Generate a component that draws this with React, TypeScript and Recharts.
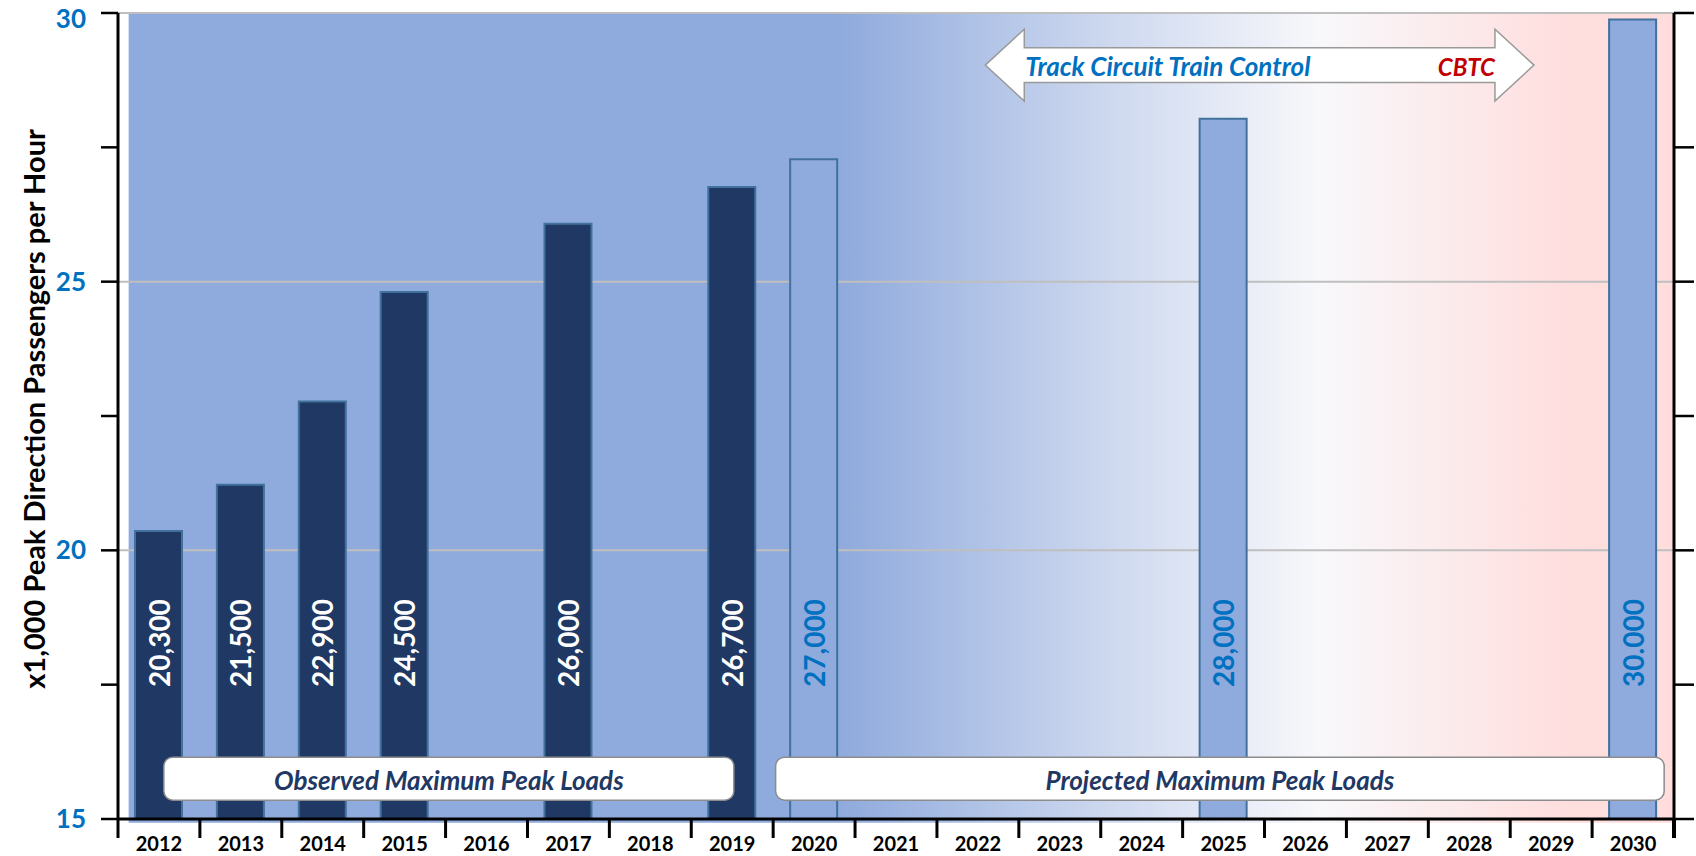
import {
  BarChart,
  Bar,
  Cell,
  XAxis,
  YAxis,
  ReferenceArea,
  ReferenceLine,
  LabelList,
} from "recharts";

const years = [
  "2012", "2013", "2014", "2015", "2016", "2017", "2018", "2019", "2020", "2021",
  "2022", "2023", "2024", "2025", "2026", "2027", "2028", "2029", "2030",
];

// heights, x1,000 passengers
const observedLoads = [20.36, 21.22, 22.77, 24.81, null, 26.08, null, 26.76, null, null, null, null, null, null, null, null, null, null, null];
const projectedLoads = [null, null, null, null, null, null, null, null, 27.28, null, null, null, null, 28.03, null, null, null, null, 29.88];
const loadLabels = ["20,300", "21,500", "22,900", "24,500", "", "26,000", "", "26,700", "27,000", "", "", "", "", "28,000", "", "", "", "", "30.000"];

const yTicks = [15, 17.5, 20, 22.5, 25, 27.5, 30];
const gridValues = [20, 25, 30];

const W = 1696;
const H = 856;
const LEFT = 118;
const RIGHT = 22;
const TOP = 13;
const BOTTOM = 37;
const BAND = (W - LEFT - RIGHT) / years.length;
// horizontal position in "category widths" from the left axis
const bandX = (f: number) => LEFT + f * BAND;

const FONT = "Lato, 'Open Sans', sans-serif";
const DARK = "#1F3864";
const LIGHT = "#8FAADC";
const EDGE = "#41719C";
const BLUE_TEXT = "#0070C0";

const data = years.map((year, i) => ({
  year,
  load: observedLoads[i] ?? projectedLoads[i],
  observed: observedLoads[i] != null,
  label: loadLabels[i],
}));

function YearTick({ x, y, payload, index }: any) {
  return (
    <g>
      <line x1={x - BAND / 2} x2={x - BAND / 2} y1={y} y2={y + 19} stroke="#000" strokeWidth={3} />
      {index === years.length - 1 && (
        <line x1={x + BAND / 2} x2={x + BAND / 2} y1={y} y2={y + 19} stroke="#000" strokeWidth={4} />
      )}
      <text x={x} y={y + 32} textAnchor="middle" fontFamily={FONT} fontWeight={700} fontSize={20} fill="#000">
        {payload.value}
      </text>
    </g>
  );
}

// left labels; also draws the matching tick on the right-hand axis
function ValueTick({ x, y, payload }: any) {
  const rx = W - RIGHT;
  // the top label sits a little lower so it isn't clipped
  const dy = y < TOP + 5 ? 15 : 9;
  return (
    <g>
      <line x1={rx} x2={rx + 20} y1={y} y2={y} stroke="#000" strokeWidth={2.5} />
      {payload.value % 5 === 0 && (
        <text x={x} y={y} dy={dy} textAnchor="end" fontFamily={FONT} fontWeight={700} fontSize={26} fill={BLUE_TEXT}>
          {payload.value}
        </text>
      )}
    </g>
  );
}

function BarLabel({ x, y, width, height, value }: any) {
  if (!value) return null;
  const row = data.find((d) => d.label === value);
  const cx = x + width / 2;
  const cy = y + height - 176;
  return (
    <text
      x={cx}
      y={cy}
      transform={`rotate(-90, ${cx}, ${cy})`}
      textAnchor="middle"
      dominantBaseline="central"
      fontFamily={FONT}
      fontWeight={700}
      fontSize={28}
      fill={row && row.observed ? "#FFFFFF" : BLUE_TEXT}
    >
      {value}
    </text>
  );
}

function Background({ y, height }: any) {
  const x0 = bandX(0.13);
  return <rect x={x0} y={y} width={bandX(years.length) + 1 - x0} height={height} fill="url(#bgGradient)" />;
}

function LoadBox(text: string, from: number, to: number) {
  return ({ y, height }: any) => {
    const x = bandX(from);
    const width = bandX(to) - x;
    return (
      <g>
        <rect x={x} y={y} width={width} height={height} rx={9} fill="#FFFFFF" stroke="#8C8C8C" strokeWidth={1.5} />
        <text
          x={x + width / 2}
          y={y + height / 2 + 1}
          dominantBaseline="central"
          textAnchor="middle"
          fontFamily={FONT}
          fontStyle="italic"
          fontWeight={700}
          fontSize={26}
          fill={DARK}
        >
          {text}
        </text>
      </g>
    );
  };
}

function ControlArrow({ y, height }: any) {
  const x = bandX(10.59);
  const width = bandX(17.29) - x;
  const head = 39;
  const inset = height * 0.26;
  const cy = y + height / 2;
  const pts = [
    [x, cy],
    [x + head, y],
    [x + head, y + inset],
    [x + width - head, y + inset],
    [x + width - head, y],
    [x + width, cy],
    [x + width - head, y + height],
    [x + width - head, y + height - inset],
    [x + head, y + height - inset],
    [x + head, y + height],
  ]
    .map((p) => p.join(","))
    .join(" ");
  return (
    <g>
      <polygon points={pts} fill="#FFFFFF" stroke="#9A9A9A" strokeWidth={1.5} />
      <text x={x + 40} y={cy + 1} dominantBaseline="central" fontFamily={FONT} fontStyle="italic" fontWeight={700} fontSize={26} fill={BLUE_TEXT}>
        Track Circuit Train Control
      </text>
      <text x={x + width - head} y={cy + 1} dominantBaseline="central" textAnchor="end" fontFamily={FONT} fontStyle="italic" fontWeight={700} fontSize={24} fill="#C00000">
        CBTC
      </text>
    </g>
  );
}

function AxisTitle({ viewBox }: any) {
  const cx = 33;
  const cy = viewBox.y + viewBox.height / 2 - 7;
  return (
    <text
      x={cx}
      y={cy}
      transform={`rotate(-90, ${cx}, ${cy})`}
      textAnchor="middle"
      dominantBaseline="central"
      fontFamily={FONT}
      fontWeight={700}
      fontSize={29}
      fill="#000"
    >
      x1,000 Peak Direction Passengers per Hour
    </text>
  );
}

export default function App() {
  return (
    <div style={{ position: "absolute", left: 0, top: 0, width: W, height: H, background: "#fff" }}>
      <BarChart width={W} height={H} data={data} margin={{ top: TOP, right: 0, left: 0, bottom: 0 }}>
        <defs>
          <linearGradient id="bgGradient" x1="0" y1="0" x2="1" y2="0">
            <stop offset="0" stopColor={LIGHT} />
            <stop offset="0.46" stopColor={LIGHT} />
            <stop offset="0.62" stopColor="#C9D5EE" />
            <stop offset="0.77" stopColor="#F8F8FB" />
            <stop offset="0.93" stopColor="#FFDEDE" />
            <stop offset="1" stopColor="#FFDDDD" />
          </linearGradient>
        </defs>

        <XAxis
          dataKey="year"
          height={BOTTOM}
          axisLine={{ stroke: "#000", strokeWidth: 3 }}
          tickLine={false}
          tickSize={0}
          tickMargin={0}
          interval={0}
          tick={<YearTick />}
        />
        <YAxis
          yAxisId="left"
          width={LEFT}
          domain={[15, 30]}
          ticks={yTicks}
          interval={0}
          allowDataOverflow
          tickSize={17}
          tickMargin={15}
          axisLine={{ stroke: "#000", strokeWidth: 3 }}
          tickLine={{ stroke: "#000", strokeWidth: 2.5 }}
          tick={<ValueTick />}
          label={{ content: <AxisTitle /> }}
        />
        <YAxis
          yAxisId="right"
          orientation="right"
          width={RIGHT}
          domain={[15, 30]}
          ticks={yTicks}
          tick={false}
          tickLine={false}
          axisLine={{ stroke: "#000", strokeWidth: 3 }}
        />

        <ReferenceArea
          yAxisId="left"
          y1={14.93}
          y2={30}
          ifOverflow="visible"
          shape={<Background />}
          zIndex={-200}
        />
        {gridValues.map((v) => (
          <ReferenceLine key={v} yAxisId="left" y={v} stroke="#BFBFBF" strokeWidth={2} zIndex={-150} />
        ))}

        <Bar dataKey="load" yAxisId="left" barSize={47} stroke={EDGE} strokeWidth={2} isAnimationActive={false}>
          {data.map((d) => (
            <Cell key={d.year} fill={d.observed ? DARK : LIGHT} />
          ))}
          <LabelList dataKey="label" content={<BarLabel />} />
        </Bar>

        <ReferenceArea
          yAxisId="left"
          y1={15.35}
          y2={16.15}
          ifOverflow="visible"
          shape={LoadBox("Observed Maximum Peak Loads", 0.56, 7.52)}
          zIndex={1500}
        />
        <ReferenceArea
          yAxisId="left"
          y1={15.35}
          y2={16.15}
          ifOverflow="visible"
          shape={LoadBox("Projected Maximum Peak Loads", 8.03, 18.88)}
          zIndex={1500}
        />
        <ReferenceArea
          yAxisId="left"
          y1={28.36}
          y2={29.7}
          ifOverflow="visible"
          shape={<ControlArrow />}
          zIndex={1500}
        />
      </BarChart>
    </div>
  );
}
